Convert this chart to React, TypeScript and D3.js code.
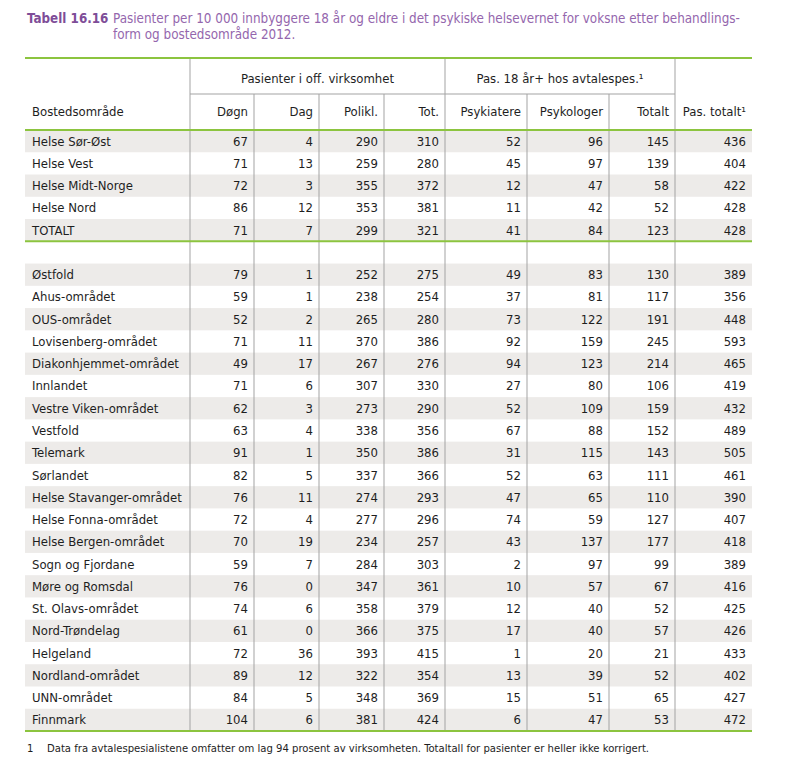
import React, { useEffect, useRef } from 'react';
import * as d3 from 'd3';

const titleLabel = 'Tabell 16.16';
const titleLines = [
  'Pasienter per 10 000 innbyggere 18 år og eldre i det psykiske helsevernet for voksne etter behandlings-',
  'form og bostedsområde 2012.',
];
const footnote = 'Data fra avtalespesialistene omfatter om lag 94 prosent av virksomheten. Totaltall for pasienter er heller ikke korrigert.';

const groupHeaders = ['Pasienter i off. virksomhet', 'Pas. 18 år+ hos avtalespes.¹'];
const columnHeaders = ['Bostedsområde', 'Døgn', 'Dag', 'Polikl.', 'Tot.', 'Psykiatere', 'Psykologer', 'Totalt', 'Pas. totalt¹'];

const regions = [
  'Helse Sør-Øst', 'Helse Vest', 'Helse Midt-Norge', 'Helse Nord', 'TOTALT',
  '',
  'Østfold', 'Ahus-området', 'OUS-området', 'Lovisenberg-området', 'Diakonhjemmet-området',
  'Innlandet', 'Vestre Viken-området', 'Vestfold', 'Telemark', 'Sørlandet',
  'Helse Stavanger-området', 'Helse Fonna-området', 'Helse Bergen-området', 'Sogn og Fjordane',
  'Møre og Romsdal', 'St. Olavs-området', 'Nord-Trøndelag', 'Helgeland', 'Nordland-området',
  'UNN-området', 'Finnmark',
];

const dogn = [67, 71, 72, 86, 71, null, 79, 59, 52, 71, 49, 71, 62, 63, 91, 82, 76, 72, 70, 59, 76, 74, 61, 72, 89, 84, 104];
const dag = [4, 13, 3, 12, 7, null, 1, 1, 2, 11, 17, 6, 3, 4, 1, 5, 11, 4, 19, 7, 0, 6, 0, 36, 12, 5, 6];
const polikl = [290, 259, 355, 353, 299, null, 252, 238, 265, 370, 267, 307, 273, 338, 350, 337, 274, 277, 234, 284, 347, 358, 366, 393, 322, 348, 381];
const tot = [310, 280, 372, 381, 321, null, 275, 254, 280, 386, 276, 330, 290, 356, 386, 366, 293, 296, 257, 303, 361, 379, 375, 415, 354, 369, 424];
const psykiatere = [52, 45, 12, 11, 41, null, 49, 37, 73, 92, 94, 27, 52, 67, 31, 52, 47, 74, 43, 2, 10, 12, 17, 1, 13, 15, 6];
const psykologer = [96, 97, 47, 42, 84, null, 83, 81, 122, 159, 123, 80, 109, 88, 115, 63, 65, 59, 137, 97, 57, 40, 40, 20, 39, 51, 47];
const totalt = [145, 139, 58, 52, 123, null, 130, 117, 191, 245, 214, 106, 159, 152, 143, 111, 110, 127, 177, 99, 67, 52, 57, 21, 52, 65, 53];
const pasTotalt = [436, 404, 422, 428, 428, null, 389, 356, 448, 593, 465, 419, 432, 489, 505, 461, 390, 407, 418, 389, 416, 425, 426, 433, 402, 427, 472];

const valueColumns = [dogn, dag, polikl, tot, psykiatere, psykologer, totalt, pasTotalt];

const FONT = '"DejaVu Sans Condensed", "Liberation Sans Narrow", "Roboto", sans-serif';

const App = () => {
  const svgRef = useRef(null);

  useEffect(() => {
    document.body.style.margin = '0';
    const width = 786;
    const height = 763;

    const svg = d3.select(svgRef.current);
    svg.selectAll('*').remove();
    svg.attr('width', width).attr('height', height);

    // column edges of the table
    const edges = [25, 190, 254, 319, 384, 445, 527, 609, 675, 752];
    const tableTop = 58;
    const groupBottom = 94;
    const headBottom = 130;

    const y = d3.scaleBand()
      .domain(regions.map((d, i) => String(i)))
      .range([headBottom, 731])
      .paddingInner(0)
      .paddingOuter(0);

    // title
    svg.append('text')
      .attr('x', 27)
      .attr('y', 23)
      .attr('fill', '#7e4d98')
      .attr('font-weight', 'bold')
      .style('font-family', FONT)
      .style('font-size', '13.3px')
      .text(titleLabel);
    svg.selectAll('.title-line')
      .data(titleLines)
      .enter()
      .append('text')
      .attr('class', 'title-line')
      .attr('x', 113)
      .attr('y', (d, i) => 23 + i * 16)
      .attr('fill', '#9466ad')
      .style('font-family', FONT)
      .style('font-size', '13.35px')
      .text(d => d);

    // row shading
    svg.selectAll('.band')
      .data(regions.map((d, i) => ({ d, i })).filter(r => r.d !== '' && (r.i < 5 ? r.i % 2 === 0 : (r.i - 6) % 2 === 0)))
      .enter()
      .append('rect')
      .attr('x', edges[0])
      .attr('width', edges[edges.length - 1] - edges[0])
      .attr('y', r => y(String(r.i)))
      .attr('height', y.bandwidth())
      .attr('fill', '#edebe9');

    // vertical lines
    const tallLines = [1, 5, 8];
    edges.slice(1, -1).forEach((x, k) => {
      const idx = k + 1;
      svg.append('line')
        .attr('x1', x).attr('x2', x)
        .attr('y1', tallLines.includes(idx) ? tableTop : groupBottom)
        .attr('y2', 731)
        .attr('stroke', '#a3a3a3')
        .attr('stroke-width', 1);
    });

    // group header separator
    svg.append('line')
      .attr('x1', edges[1]).attr('x2', edges[8])
      .attr('y1', groupBottom).attr('y2', groupBottom)
      .attr('stroke', '#a3a3a3');

    // green rules
    [tableTop, headBottom, y('5'), 731].forEach(yy => {
      svg.append('line')
        .attr('x1', edges[0]).attr('x2', edges[edges.length - 1])
        .attr('y1', yy).attr('y2', yy)
        .attr('stroke', '#8cc43f')
        .attr('stroke-width', 2);
    });

    const textStyle = sel => sel
      .style('font-family', FONT)
      .style('font-size', '13px')
      .attr('fill', '#1e1e1e')
      .attr('dominant-baseline', 'central');

    // group headers
    svg.selectAll('.group-head')
      .data(groupHeaders)
      .enter()
      .append('text')
      .attr('x', (d, i) => i === 0 ? (edges[1] + edges[5]) / 2 : (edges[5] + edges[8]) / 2)
      .attr('y', (tableTop + groupBottom) / 2 + 2)
      .attr('text-anchor', 'middle')
      .call(textStyle)
      .text(d => d);

    // column headers
    svg.selectAll('.col-head')
      .data(columnHeaders)
      .enter()
      .append('text')
      .attr('x', (d, i) => i === 0 ? edges[0] + 7 : edges[i + 1] - 6)
      .attr('y', (groupBottom + headBottom) / 2 - 1)
      .attr('text-anchor', (d, i) => i === 0 ? 'start' : 'end')
      .call(textStyle)
      .text(d => d);

    // region names
    svg.selectAll('.region')
      .data(regions)
      .enter()
      .append('text')
      .attr('x', edges[0] + 7)
      .attr('y', (d, i) => y(String(i)) + y.bandwidth() / 2)
      .call(textStyle)
      .text(d => d);

    // values
    valueColumns.forEach((col, c) => {
      svg.selectAll(`.val-${c}`)
        .data(col)
        .enter()
        .append('text')
        .attr('x', edges[c + 2] - 6)
        .attr('y', (d, i) => y(String(i)) + y.bandwidth() / 2)
        .attr('text-anchor', 'end')
        .call(textStyle)
        .text(d => d === null ? '' : d);
    });

    // footnote
    svg.append('text')
      .attr('x', 27)
      .attr('y', 748)
      .call(textStyle)
      .style('font-size', '11.2px')
      .text('1');
    svg.append('text')
      .attr('x', 47)
      .attr('y', 748)
      .call(textStyle)
      .style('font-size', '11.2px')
      .text(footnote);
  }, []);

  return <svg ref={svgRef}></svg>;
};

export default App;
